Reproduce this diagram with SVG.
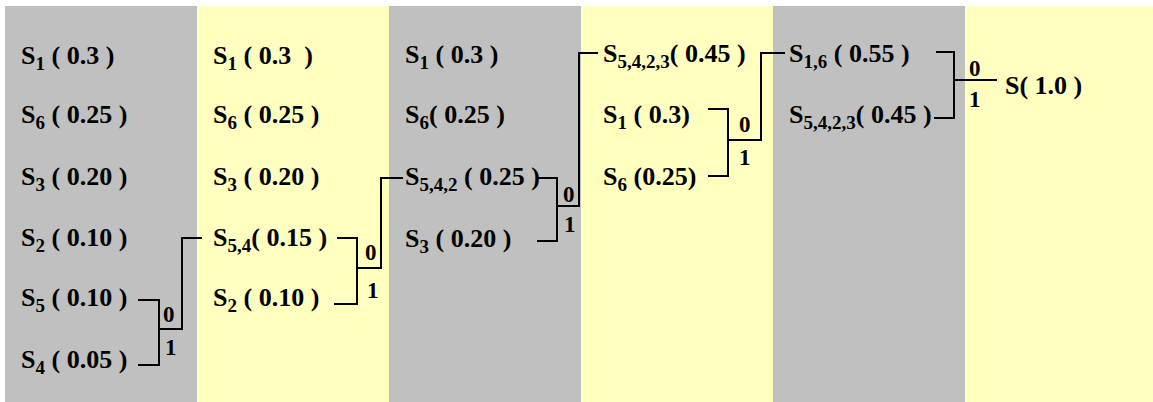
<svg xmlns="http://www.w3.org/2000/svg" width="1153" height="402" viewBox="0 0 1153 402">
<style>
.g{fill:#C0C0C0}
.y{fill:#FFFFC0}
.t{font-family:"Liberation Serif",serif;font-weight:bold;font-size:26px;fill:#000}
.s{font-size:19px}
.b{font-family:"Liberation Serif",serif;font-weight:bold;font-size:23px;fill:#000}
.c{fill:none;stroke:#000;stroke-width:2}
</style>
<rect x="0" y="0" width="1153" height="402" fill="#fff"/>
<g id="panels">
<rect class="g" x="5" y="6" width="192" height="396"/>
<rect class="y" x="197" y="6" width="192" height="396"/>
<rect class="g" x="389" y="6" width="192" height="396"/>
<rect class="y" x="581" y="6" width="192" height="396"/>
<rect class="g" x="773" y="6" width="192" height="396"/>
<rect class="y" x="965" y="6" width="188" height="396"/>
</g>
<g id="p1_s1"><text class="t" x="21" y="64" xml:space="preserve">S<tspan class="s" dy="6">1</tspan><tspan dy="-6"> ( 0.3 )</tspan></text></g>
<g id="p1_s6"><text class="t" x="21" y="123" xml:space="preserve">S<tspan class="s" dy="6">6</tspan><tspan dy="-6"> ( 0.25 )</tspan></text></g>
<g id="p1_s3"><text class="t" x="21" y="185" xml:space="preserve">S<tspan class="s" dy="6">3</tspan><tspan dy="-6"> ( 0.20 )</tspan></text></g>
<g id="p1_s2"><text class="t" x="21" y="246" xml:space="preserve">S<tspan class="s" dy="6">2</tspan><tspan dy="-6"> ( 0.10 )</tspan></text></g>
<g id="p1_s5"><text class="t" x="21" y="306" xml:space="preserve">S<tspan class="s" dy="6">5</tspan><tspan dy="-6"> ( 0.10 )</tspan></text></g>
<g id="p1_s4"><text class="t" x="21" y="368" xml:space="preserve">S<tspan class="s" dy="6">4</tspan><tspan dy="-6"> ( 0.05 )</tspan></text></g>

<g id="p2_s1"><text class="t" x="213" y="64" xml:space="preserve">S<tspan class="s" dy="6">1</tspan><tspan dy="-6"> ( 0.3  )</tspan></text></g>
<g id="p2_s6"><text class="t" x="213" y="123" xml:space="preserve">S<tspan class="s" dy="6">6</tspan><tspan dy="-6"> ( 0.25 )</tspan></text></g>
<g id="p2_s3"><text class="t" x="213" y="185" xml:space="preserve">S<tspan class="s" dy="6">3</tspan><tspan dy="-6"> ( 0.20 )</tspan></text></g>
<g id="p2_s54"><text class="t" x="213" y="246" xml:space="preserve">S<tspan class="s" dy="6">5,4</tspan><tspan dy="-6">( 0.15 )</tspan></text></g>
<g id="p2_s2"><text class="t" x="213" y="306" xml:space="preserve">S<tspan class="s" dy="6">2</tspan><tspan dy="-6"> ( 0.10 )</tspan></text></g>

<g id="p3_s1"><text class="t" x="405" y="63" xml:space="preserve">S<tspan class="s" dy="6">1</tspan><tspan dy="-6"> ( 0.3 )</tspan></text></g>
<g id="p3_s6"><text class="t" x="405" y="123" xml:space="preserve">S<tspan class="s" dy="6">6</tspan><tspan dy="-6">( 0.25 )</tspan></text></g>
<g id="p3_s542"><text class="t" x="405" y="185" xml:space="preserve">S<tspan class="s" dy="6">5,4,2</tspan><tspan dy="-6"> ( 0.25 )</tspan></text></g>
<g id="p3_s3"><text class="t" x="405" y="247" xml:space="preserve">S<tspan class="s" dy="6">3</tspan><tspan dy="-6"> ( 0.20 )</tspan></text></g>

<g id="p4_s5423"><text class="t" x="603" y="62" xml:space="preserve">S<tspan class="s" dy="6">5,4,2,3</tspan><tspan dy="-6">( 0.45 )</tspan></text></g>
<g id="p4_s1"><text class="t" x="603" y="123" xml:space="preserve">S<tspan class="s" dy="6">1</tspan><tspan dy="-6"> ( 0.3)</tspan></text></g>
<g id="p4_s6"><text class="t" x="603" y="185" xml:space="preserve">S<tspan class="s" dy="6">6</tspan><tspan dy="-6"> (0.25)</tspan></text></g>

<g id="p5_s16"><text class="t" x="789" y="62" xml:space="preserve">S<tspan class="s" dy="6">1,6</tspan><tspan dy="-6"> ( 0.55 )</tspan></text></g>
<g id="p5_s5423"><text class="t" x="789" y="123" xml:space="preserve">S<tspan class="s" dy="6">5,4,2,3</tspan><tspan dy="-6">( 0.45 )</tspan></text></g>

<g id="p6_s"><text class="t" x="1005" y="94" xml:space="preserve">S( 1.0 )</text></g>

<g id="connectors">
<polyline class="c" points="138,300 159,300 159,365 138,365"/>
<polyline class="c" points="159,329 182,329 182,238 202,238"/>
<polyline class="c" points="337,238 357,238 357,304 334,304"/>
<polyline class="c" points="357,268 381,268 381,178 403,178"/>
<polyline class="c" points="538,178 557,178 557,241 537,241"/>
<polyline class="c" points="557,206 579,206 579,53 598,53"/>
<polyline class="c" points="708,109 728,109 728,176 708,176"/>
<polyline class="c" points="728,140 761,140 761,53 785,53"/>
<polyline class="c" points="936,52 954,52 954,118 934,118"/>
<polyline class="c" points="954,80 997,80"/>
<text class="b" x="163" y="322">0</text>
<text class="b" x="165" y="355">1</text>
<text class="b" x="365" y="260">0</text>
<text class="b" x="367" y="298">1</text>
<text class="b" x="563" y="202">0</text>
<text class="b" x="564" y="232">1</text>
<text class="b" x="739" y="132">0</text>
<text class="b" x="739" y="165">1</text>
<text class="b" x="969" y="76">0</text>
<text class="b" x="969" y="107">1</text>
</g>
</svg>
